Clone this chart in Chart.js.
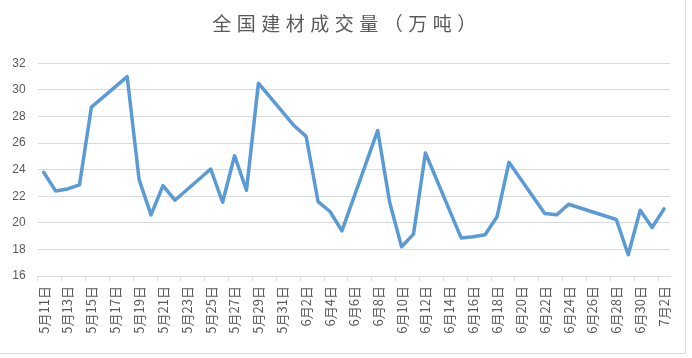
<!DOCTYPE html>
<html><head><meta charset="utf-8">
<script src="https://cdn.jsdelivr.net/npm/chart.js@4"></script>
<style>
html,body{margin:0;padding:0;background:#fff;}
#wrap{position:absolute;left:0;top:0;width:685px;height:353px;border-right:1px solid #d9d9d9;border-bottom:1px solid #d9d9d9;}
canvas{display:block;}
</style></head><body>
<div id="wrap"><canvas id="c" width="685" height="353"></canvas></div>
<script>
const chartTitle = '全国建材成交量（万吨）';
const dates = [
 '5月11日','5月12日','5月13日','5月14日','5月15日','5月16日','5月17日','5月18日','5月19日','5月20日',
 '5月21日','5月22日','5月23日','5月24日','5月25日','5月26日','5月27日','5月28日','5月29日','5月30日',
 '5月31日','6月1日','6月2日','6月3日','6月4日','6月5日','6月6日','6月7日','6月8日','6月9日',
 '6月10日','6月11日','6月12日','6月13日','6月14日','6月15日','6月16日','6月17日','6月18日','6月19日',
 '6月20日','6月21日','6月22日','6月23日','6月24日','6月25日','6月26日','6月27日','6月28日','6月29日',
 '6月30日','7月1日','7月2日'
];
const volumes = [
 23.8, 22.4, 22.55, 22.85, 28.7, null, null, 31.0, 23.25, 20.6,
 22.8, 21.7, null, null, 24.05, 21.55, 25.05, 22.45, 30.5, null,
 null, 27.3, 26.5, 21.6, 20.85, 19.4, null, null, 26.95, 21.55,
 18.2, 19.15, 25.25, null, null, 18.85, 18.95, 19.1, 20.45, 24.55,
 null, null, 20.7, 20.6, 21.4, null, null, null, 20.25, 17.6,
 20.95, 19.65, 21.05
];
const yMin = 16, yMax = 32, yStep = 2;

const spacedTitle = {
  id: 'spacedTitle',
  afterInit(chart) {
    const tb = chart.titleBlock;
    if (!tb) return;
    const orig = tb.draw.bind(tb);
    tb.draw = function () {
      const ctx = chart.ctx;
      ctx.save();
      ctx.translate(12, 0);
      if ('letterSpacing' in ctx) ctx.letterSpacing = '5.5px';
      orig.apply(null, arguments);
      ctx.restore();
    };
  }
};

new Chart(document.getElementById('c'), {
  type: 'line',
  data: {
    labels: dates,
    datasets: [{
      data: volumes,
      borderColor: '#5b9bd5',
      borderWidth: 3.5,
      pointRadius: 0,
      spanGaps: true,
      tension: 0,
      borderJoinStyle: 'round',
      borderCapStyle: 'round',
      fill: false
    }]
  },
  options: {
    responsive: false,
    animation: false,
    layout: { padding: { left: 0, right: 15, top: 0, bottom: 0 } },
    plugins: {
      legend: { display: false },
      tooltip: { enabled: false },
      title: {
        display: true,
        text: chartTitle,
        color: '#595959',
        font: { family: 'Noto Sans CJK SC', size: 19, weight: 'normal' },
        padding: { top: 12, bottom: 28.5 }
      }
    },
    scales: {
      x: {
        type: 'category',
        offset: true,
        grid: {
          display: true,
          drawOnChartArea: false,
          offset: true,
          tickLength: 5,
          tickColor: (ctx) => (ctx.index !== undefined && ctx.index % 2 === 0) ? '#d9d9d9' : 'rgba(0,0,0,0)'
        },
        border: { color: '#d9d9d9' },
        ticks: {
          autoSkip: false,
          minRotation: 90,
          maxRotation: 90,
          padding: 5,
          color: '#595959',
          font: { family: 'Noto Sans CJK SC', size: 13 },
          callback: function (v, i) { return i % 2 === 0 ? this.getLabelForValue(v) : ''; }
        },
        afterFit(s) { s.height = 77; }
      },
      y: {
        min: yMin,
        max: yMax,
        ticks: {
          stepSize: yStep,
          color: '#595959',
          font: { family: 'Liberation Sans', size: 12 },
          padding: 12
        },
        grid: { color: '#d9d9d9', drawTicks: false },
        border: { display: false },
        afterFit(s) { s.width = 37.7; }
      }
    }
  },
  plugins: [spacedTitle]
});
</script>
</body></html>
